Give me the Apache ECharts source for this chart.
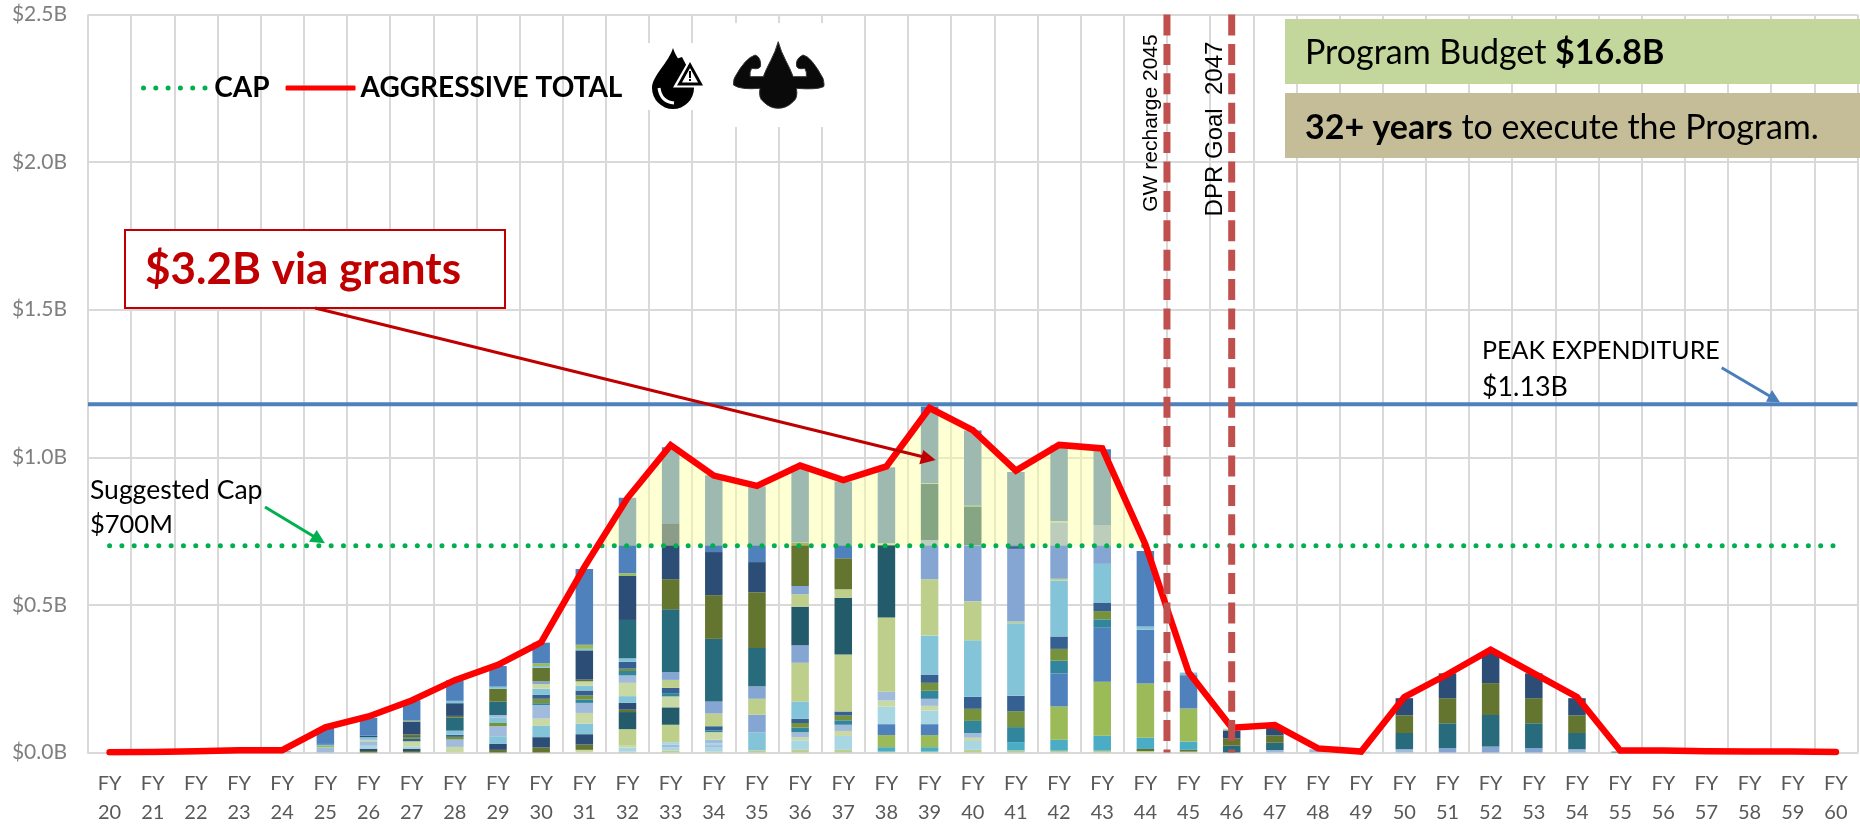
<!DOCTYPE html>
<html><head><meta charset="utf-8">
<style>html,body{margin:0;padding:0;background:#fff}#c{width:1860px;height:825px}</style>
<script src="https://cdn.jsdelivr.net/npm/echarts@6/dist/echarts.min.js"></script>
</head><body><div id="c"></div>
<script>
// ---------- categories and totals ($M) ----------
const fiscalYears = ['20','21','22','23','24','25','26','27','28','29','30','31','32','33','34','35','36','37','38','39','40','41','42','43','44','45','46','47','48','49','50','51','52','53','54','55','56','57','58','59','60'];
const aggressiveTotal = [1,2,4,8,8,85,122,176,245,297,373,628,862,1041,938,903,972,923,969,1167,1092,955,1042,1030,705,272,84,93,14,3,188,265,348,268,188,7,7,4,3,3,2];
const capLevel = 700;
const peakLevel = 1180;
const gwRechargePosition = 25;   // boundary of FY44/FY45 on the 0..41 slot scale
const dprGoalPosition = 26.5;    // centre of FY46
const grantsStart = 11.8;        // where the total rises through the cap
const grantsEnd = 24.5;          // where the total falls through the cap
const yTicks = {min:0, max:2500, interval:500};

// ---------- stacked segments per fiscal year, bottom to top ($M) ----------
const fy22Values=[2],  fy22Groups=['pb'];
const fy23Values=[4],  fy23Groups=['pb'];
const fy24Values=[5],  fy24Groups=['pb'];
const fy25Values=[17,5,5,2,54], fy25Groups=['pb','g','s','dn','b'];
const fy26Values=[5,8,10,15,5,9,5,61], fy26Groups=['do','dn','la','pb','pg','s','dn','b'];
const fy27Values=[5,8,8,17,8,7,3,5,44,3,69], fy27Groups=['do','dn','la','pg','n','o','dn','do','dn','g','b'];
const fy28Values=[19,25,9,7,14,45,5,43,8,70], fy28Groups=['pg','pb','o','n','s','tt','do','dn','s','b'];
const fy29Values=[9,20,26,34,11,18,9,45,44,7,70], fy29Groups=['do','dn','s','pb','o','s','pb','tt','do','s','b'];
const fy30Values=[17,35,38,25,46,6,15,14,20,16,9,46,6,9,70], fy30Groups=['do','dn','s','pg','pb','t','o','n','s','pg','m','do','s','g','b'];
const fy31Values=[9,18,35,36,36,34,11,14,17,16,15,6,99,5,14,257], fy31Groups=['pg','do','dn','s','pg','pb','t','o','n','s','pg','do','dn','s','g','b'];
const fy32Values=[3,14,6,56,58,8,23,23,45,25,15,8,23,12,130,149,9,256], fy32Groups=['v','la','pg','v','dt','do','dn','s','pg','pb','t','o','n','s','tt','dn','g','b'];
const fy33Values=[7,10,9,9,59,59,37,11,18,27,27,212,102,190,257], fy33Groups=['v','la','pb','la','v','dt','pg','t','n','v','m','tt','do','dn','b'];
const fy34Values=[3,14,8,7,11,26,6,14,43,41,212,148,146,260], fy34Groups=['v','la','pb','la','pb','pg','t','n','v','m','tt','do','dn','b'];
const fy35Values=[7,61,60,54,42,130,189,102,257], fy35Groups=['v','s','m','v','m','tt','do','dn','b'];
const fy36Values=[9,32,11,17,15,16,14,59,131,59,131,42,28,147,260], fy36Groups=['v','la','pg','pb','t','o','n','s','v','m','dt','v','m','do','b'];
const fy37Values=[9,47,17,21,15,16,14,193,192,29,105,260], fy37Groups=['v','la','pg','pb','t','o','n','v','dt','v','do','b'];
const fy38Values=[3,15,41,37,59,21,30,251,247,5,257], fy38Groups=['v','a','g','b','la','pg','pb','v','dt','v','b'];
const fy39Values=[3,15,41,37,46,16,24,27,27,28,132,191,133,190,2,260], fy39Groups=['v','a','g','b','la','pg','pb','t','o','n','s','v','m','dt','v','b'];
const fy40Values=[9,30,11,16,41,41,41,191,132,191,131,2,255], fy40Groups=['v','la','pg','pb','t','o','n','s','v','m','dt','v','b'];
const fy41Values=[7,28,51,54,52,246,6,246,9,251], fy41Groups=['v','a','t','o','n','s','v','m','n','b'];
const fy42Values=[6,37,113,112,43,40,42,190,6,191,3,257], fy42Groups=['v','a','g','b','t','o','n','s','v','m','v','b'];
const fy43Values=[6,51,183,184,27,28,29,131,132,256], fy43Groups=['v','a','g','b','t','o','n','s','m','b'];
const fy44Values=[5,7,38,184,182,11,256], fy44Groups=['v','do','a','g','b','s','b'];
const fy45Values=[3,6,28,112,113,9], fy45Groups=['v','do','a','g','b','s'];
const fy46Values=[23,25,27,6], fy46Groups=['tt','do','dn','pg'];
const fy47Values=[8,25,25,30], fy47Groups=['pb','tt','do','dn'];
const fy48Values=[11], fy48Groups=['pb'];
const fy49Values=[3], fy49Groups=['pb'];
const fy50Values=[11,55,60,58], fy50Groups=['pb','tt','do','dn'];
const fy51Values=[15,84,85,84], fy51Groups=['m','tt','do','dn'];
const fy52Values=[20,107,108,108], fy52Groups=['m','tt','do','dn'];
const fy53Values=[15,84,85,84], fy53Groups=['m','tt','do','dn'];
const fy54Values=[11,55,60,58], fy54Groups=['pb','tt','do','dn'];
const fy55Values=[3], fy55Groups=['tt'];

const groupColors = {a:'#4BACC6',g:'#9BBB59',b:'#4F81BD',la:'#A8D6E3',pg:'#C8D9A3',pb:'#A0BBDC',t:'#31859C',o:'#76923C',n:'#376092',s:'#84C4D8',v:'#BDCF8B',m:'#85A6D2',dt:'#235B6B',do:'#64752F',dn:'#2C4D75',tt:'#286B7C'};

const stackValues = {22:fy22Values,23:fy23Values,24:fy24Values,25:fy25Values,26:fy26Values,27:fy27Values,28:fy28Values,29:fy29Values,30:fy30Values,31:fy31Values,32:fy32Values,33:fy33Values,34:fy34Values,35:fy35Values,36:fy36Values,37:fy37Values,38:fy38Values,39:fy39Values,40:fy40Values,41:fy41Values,42:fy42Values,43:fy43Values,44:fy44Values,45:fy45Values,46:fy46Values,47:fy47Values,48:fy48Values,49:fy49Values,50:fy50Values,51:fy51Values,52:fy52Values,53:fy53Values,54:fy54Values,55:fy55Values};
const stackGroups = {22:fy22Groups,23:fy23Groups,24:fy24Groups,25:fy25Groups,26:fy26Groups,27:fy27Groups,28:fy28Groups,29:fy29Groups,30:fy30Groups,31:fy31Groups,32:fy32Groups,33:fy33Groups,34:fy34Groups,35:fy35Groups,36:fy36Groups,37:fy37Groups,38:fy38Groups,39:fy39Groups,40:fy40Groups,41:fy41Groups,42:fy42Groups,43:fy43Groups,44:fy44Groups,45:fy45Groups,46:fy46Groups,47:fy47Groups,48:fy48Groups,49:fy49Groups,50:fy50Groups,51:fy51Groups,52:fy52Groups,53:fy53Groups,54:fy54Groups,55:fy55Groups};

// ---------- build ----------
const FONT = 'Lato';
const series = [];
for (let level = 0; level < 18; level++) {
  series.push({
    type:'bar', name:'Segment '+(level+1), stack:'program', barWidth:17.5, z:2, silent:true,
    data: fiscalYears.map(fy => {
      const vals = stackValues[fy];
      if (!vals || vals[level] === undefined) return null;
      return {value:vals[level], itemStyle:{color:groupColors[stackGroups[fy][level]]}};
    })
  });
}
const grantsArea = [[grantsStart,capLevel]];
aggressiveTotal.forEach((v,i)=>{ if (i+0.5>grantsStart && i+0.5<grantsEnd) grantsArea.push([i+0.5,v]); });
grantsArea.push([grantsEnd,capLevel]);
series.push({type:'line', name:'Grants', xAxisIndex:1, z:3, silent:true, symbol:'none', data:grantsArea,
  lineStyle:{width:0}, areaStyle:{origin:capLevel, color:'rgba(255,255,160,0.45)', opacity:1}});
series.push({type:'line', name:'Peak', xAxisIndex:1, z:4, silent:true, symbol:'none',
  data:[[0,peakLevel],[41,peakLevel]], lineStyle:{color:'#4F81BD', width:4}});
series.push({type:'line', name:'CAP', z:4, silent:true, symbol:'none', itemStyle:{color:'#00B050'},
  data:fiscalYears.map(()=>capLevel), lineStyle:{color:'#00B050', width:5, type:[0.01,12.3], cap:'round'}});
series.push({type:'line', name:'AGGRESSIVE TOTAL', z:5, silent:true, symbol:'none', itemStyle:{color:'#FF0000'},
  data:aggressiveTotal, lineStyle:{color:'#FF0000', width:6.5, join:'miter', cap:'round'}});
[gwRechargePosition, dprGoalPosition].forEach((p,i)=>series.push({type:'line', name:'Ref'+i, xAxisIndex:1, z:6, silent:true, symbol:'none',
  data:[[p,yTicks.max],[p,yTicks.min]], lineStyle:{color:'#C0504D', width:7, type:[21,8.4]}}));

// icon shapes (not data): drawn as path elements
const dropPath='M21 0 C17 14 0 28 0 40 A21 21 0 0 0 42 40 C42 28 25 14 21 0 Z';
const musclePath='M135 0 C145 40 170 75 180 105 L220 105 Q222 90 215 80 Q190 85 190 70 Q188 50 210 40 Q235 45 270 110 Q275 130 272 135 Q250 145 190 140 Q195 170 180 180 Q160 200 135 200 Q110 200 90 180 Q75 170 80 140 Q20 145 0 130 Q0 110 5 105 Q35 50 65 40 Q82 45 82 70 Q82 85 55 80 Q48 90 50 105 L90 105 C100 75 125 40 135 0 Z';
series.push({type:'custom', name:'Icons', coordinateSystem:'none', z:92, silent:true, data:[0], renderItem:()=>({type:'group',children:[
  {type:'path',shape:{pathData:dropPath,x:652,y:48,width:42,height:61,layout:'cover'},style:{fill:'#000'}},
  {type:'path',shape:{pathData:'M0 0 Q2 14 15 15',x:659,y:88,width:15,height:15,layout:'cover'},style:{fill:'none',stroke:'#fff',lineWidth:3}},
  {type:'path',shape:{pathData:musclePath,x:733.5,y:41.7,width:90.5,height:66.6,layout:'cover'},style:{fill:'#0a0a0a',stroke:'#333',lineWidth:1}}
]})});

function txt(text,x,y,size,opt){
  return {type:'text', z:100, x, y, style:Object.assign({text, fontFamily:FONT, fontSize:size, fill:'#000', verticalAlign:'middle', textAlign:'left'},opt||{})};
}
const graphics=[
  {type:'rect',z:90,shape:{x:647,y:43,width:60,height:67},style:{fill:'#fff'}},
  {type:'rect',z:90,shape:{x:732,y:23,width:93,height:104},style:{fill:'#fff'}},
  {type:'polygon',z:91,shape:{points:[[673,60],[682,57],[694,80],[672,85]]},style:{fill:'#000'}},
  {type:'polygon',z:94,shape:{points:[[690,58],[673,87.5],[707,87.5]]},style:{fill:'#fff'}},
  {type:'polygon',z:95,shape:{points:[[690,62],[677,85.5],[703,85.5]]},style:{fill:'#000'}},
  {type:'polygon',z:96,shape:{points:[[690,68],[682,82.5],[698,82.5]]},style:{fill:'#fff'}},
  {type:'rect',z:97,shape:{x:689,y:71,width:2,height:7},style:{fill:'#000'}},
  {type:'rect',z:97,shape:{x:689,y:79,width:2,height:2},style:{fill:'#000'}},
  // budget boxes
  {type:'rect',z:95,shape:{x:1285,y:19,width:575,height:65},style:{fill:'#C3D69B'}},
  {type:'rect',z:95,shape:{x:1285,y:93,width:575,height:65},style:{fill:'#C4BD97'}},
  {type:'text',z:100,x:1305,y:53,style:{text:'{a|Program Budget }{b|$16.8B}',verticalAlign:'middle',rich:{a:{fontFamily:FONT,fontSize:34,fill:'#000'},b:{fontFamily:FONT,fontSize:34,fontWeight:'bold',fill:'#000'}}}},
  {type:'text',z:100,x:1305,y:128,style:{text:'{b|32+ years}{a| to execute the Program.}',verticalAlign:'middle',rich:{a:{fontFamily:FONT,fontSize:34,fill:'#000'},b:{fontFamily:FONT,fontSize:34,fontWeight:'bold',fill:'#000'}}}},
  // grants callout
  {type:'rect',z:98,shape:{x:125,y:230,width:380,height:78},style:{fill:'#fff',stroke:'#C00000',lineWidth:2}},
  txt('$3.2B via grants',145,270,44,{fill:'#C00000',fontWeight:'bold'}),
  {type:'polyline',z:99,shape:{points:[[315,308],[928,458]]},style:{stroke:'#C00000',lineWidth:3,fill:'none'}},
  {type:'polygon',z:99,shape:{points:[[935.7,460],[923.3,450],[919.3,464.3]]},style:{fill:'#C00000'}},
  // suggested cap
  txt('Suggested Cap',90,490,26.5), txt('$700M',90,525,25.5),
  {type:'polyline',z:99,shape:{points:[[265,507],[318,539]]},style:{stroke:'#00B050',lineWidth:3,fill:'none'}},
  {type:'polygon',z:99,shape:{points:[[325,543.3],[316.7,530],[309,541.7]]},style:{fill:'#00B050'}},
  // peak
  txt('PEAK EXPENDITURE',1482,351,25), txt('$1.13B',1482,387,26.8),
  {type:'polyline',z:99,shape:{points:[[1721.7,367.7],[1773,398]]},style:{stroke:'#4A7EBB',lineWidth:3,fill:'none'}},
  {type:'polygon',z:99,shape:{points:[[1780,402.3],[1772,390],[1766,401.7]]},style:{fill:'#4A7EBB'}},
  // vertical notes
  {type:'text',z:100,x:1151,y:123,rotation:Math.PI/2,style:{text:'GW recharge 2045',fontFamily:'Liberation Sans',fontSize:21,fill:'#000',textAlign:'center',verticalAlign:'middle'}},
  {type:'text',z:100,x:1215,y:129,rotation:Math.PI/2,style:{text:'DPR Goal  2047',fontFamily:'Liberation Sans',fontSize:24,fill:'#000',textAlign:'center',verticalAlign:'middle'}}
];

const capLegendIcon = 'path://'+[0,12.3,24.6,36.9,49.2,61.5].map(x=>`M${x} 2.5a2.5 2.5 0 1 0 5 0a2.5 2.5 0 1 0 -5 0Z`).join(' ');
const chart = echarts.init(document.getElementById('c'),null,{renderer:'canvas'});
chart.setOption({
  animation:false,
  backgroundColor:'#fff',
  grid:{left:88,right:2.5,top:14.5,bottom:825-752.5,containLabel:false,outerBoundsMode:'none'},
  legend:{left:136,top:69,itemWidth:70,itemHeight:5,itemGap:16,selectedMode:false,
    data:[{name:'CAP',icon:capLegendIcon,itemStyle:{color:'#00B050'}},{name:'AGGRESSIVE TOTAL',icon:'roundRect',itemStyle:{color:'#FF0000'}}],
    textStyle:{fontFamily:FONT,fontSize:28,fontWeight:'bold',color:'#000'}},
  xAxis:[
    {type:'category',data:fiscalYears,boundaryGap:true,
     axisLine:{lineStyle:{color:'#D9D9D9',width:2}},axisTick:{show:false},
     splitLine:{show:true,lineStyle:{color:'#D9D9D9',width:2}},
     axisLabel:{interval:0,formatter:v=>'FY\n'+v,fontFamily:FONT,fontSize:20,color:'#595959',lineHeight:29,margin:17}},
    {type:'value',min:0,max:41,show:false}
  ],
  yAxis:{type:'value',min:yTicks.min,max:yTicks.max,interval:yTicks.interval,
    axisLine:{show:false},axisTick:{show:false},
    splitLine:{lineStyle:{color:'#D9D9D9',width:2}},
    axisLabel:{fontFamily:FONT,fontSize:21,color:'#7F7F7F',margin:21,formatter:v=>'$'+(v/1000).toFixed(1)+'B'}},
  series,
  graphic:graphics
});
</script></body></html>
